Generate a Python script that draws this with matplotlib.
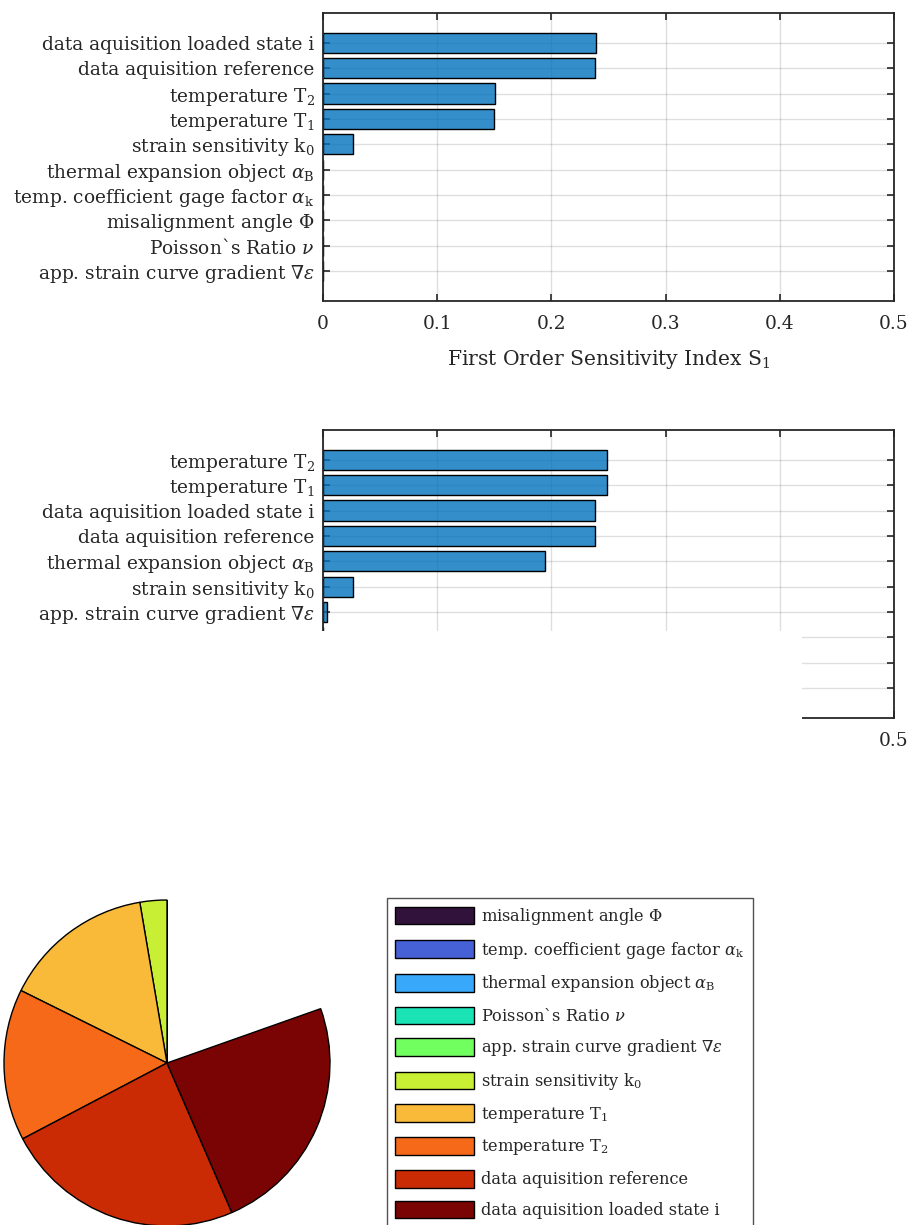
import numpy as np
import matplotlib
matplotlib.use("Agg")
import matplotlib.pyplot as plt

plt.rcParams['font.family'] = ['DejaVu Serif']
plt.rcParams['mathtext.fontset'] = 'dejavuserif'
plt.rcParams['text.color'] = '#262626'
plt.rcParams['axes.labelcolor'] = '#262626'
plt.rcParams['xtick.color'] = '#262626'
plt.rcParams['ytick.color'] = '#262626'

# Input parameters (legend / pie order)
params = [
    r"misalignment angle $\Phi$",
    r"temp. coefficient gage factor $\alpha_{\mathrm{k}}$",
    r"thermal expansion object $\alpha_{\mathrm{B}}$",
    r"Poisson`s Ratio $\nu$",
    r"app. strain curve gradient $\nabla\epsilon$",
    r"strain sensitivity k$_0$",
    r"temperature T$_1$",
    r"temperature T$_2$",
    "data aquisition reference",
    "data aquisition loaded state i",
]
# First order indices S1 and total order indices ST
s1 = [0.0, 0.0, 0.0, 0.0, 0.0, 0.0267, 0.1500, 0.1503, 0.2382, 0.2389]
st = [0.0, 0.0, 0.194, 0.0, 0.0038, 0.0267, 0.2485, 0.2489, 0.2382, 0.2385]

# Display order of the bar rows, top to bottom
order_s1 = [9, 8, 7, 6, 5, 2, 1, 0, 3, 4]
order_st = [7, 6, 9, 8, 2, 5, 4, 1, 0, 3]

xticks = [0, 0.1, 0.2, 0.3, 0.4, 0.5]
xticklabels = ["0", "0.1", "0.2", "0.3", "0.4", "0.5"]

W, H = 913, 1225
fig = plt.figure(figsize=(W / 100, H / 100), dpi=100)

FS = 13.4
bar_face = (0.0, 0.447, 0.741, 0.8)
ink = '#262626'
pad = 1.18


def px_axes(x0, y0, x1, y1):
    return fig.add_axes([x0 / W, 1 - y1 / H, (x1 - x0) / W, (y1 - y0) / H])


def bar_panel(ax, values, order, xlabel=None):
    pos = np.arange(len(order))
    vals = [values[i] for i in order]
    labs = [params[i] for i in order]
    ax.barh(pos, vals, height=0.8, color=bar_face, edgecolor='black',
            linewidth=1.0, zorder=2)
    ax.set_xlim(0, 0.5)
    ax.set_ylim(len(order) - 1 + pad, -pad)
    ax.set_yticks(pos)
    ax.set_yticklabels(labs, fontsize=FS)
    ax.set_xticks(xticks)
    ax.set_xticklabels(xticklabels, fontsize=FS)
    ax.grid(True, color=ink, alpha=0.15, linewidth=1.0, zorder=0)
    ax.set_axisbelow(True)
    ax.tick_params(axis='both', direction='in', length=5, width=1.2,
                   top=True, right=True, color=ink)
    ax.tick_params(axis='y', pad=6)
    ax.tick_params(axis='x', pad=10)
    for sp in ax.spines.values():
        sp.set_color(ink)
        sp.set_linewidth(1.3)
    if xlabel:
        ax.set_xlabel(xlabel, fontsize=14.6, labelpad=11)


ax1 = px_axes(323, 13, 894, 301)
bar_panel(ax1, s1, order_s1, r"First Order Sensitivity Index S$_1$")

ax2 = px_axes(323, 430, 894, 718)
bar_panel(ax2, st, order_st)

# Blank panel lying over the lower left part of the second bar chart
cover = px_axes(0, 631, 802, 890)
cover.set_facecolor('white')
cover.set_xticks([])
cover.set_yticks([])
for sp in cover.spines.values():
    sp.set_visible(False)

# Pie of the first order indices (partial pie, values sum below 1)
axp = px_axes(4, 900, 330, 1226)
colors = plt.get_cmap('turbo')(np.linspace(0, 1, len(params)))
wedges, _ = axp.pie(s1, colors=colors, startangle=90, counterclock=True,
                    normalize=False,
                    wedgeprops=dict(edgecolor='black', linewidth=1.0))
axp.set_xlim(-1, 1)
axp.set_ylim(-1, 1)

LFS = 11.7
leg = fig.legend(wedges, params, loc='upper left',
                 bbox_to_anchor=(387 / W, 1 - 898 / H), borderaxespad=0,
                 fontsize=LFS, frameon=True, fancybox=False,
                 handlelength=79 / (LFS * 1.389), handleheight=21 / (LFS * 1.389),
                 labelspacing=0.77, borderpad=0.5, handletextpad=0.45)
leg.get_frame().set_edgecolor(ink)
leg.get_frame().set_linewidth(1.0)

fig.savefig("out.png", dpi=100)
